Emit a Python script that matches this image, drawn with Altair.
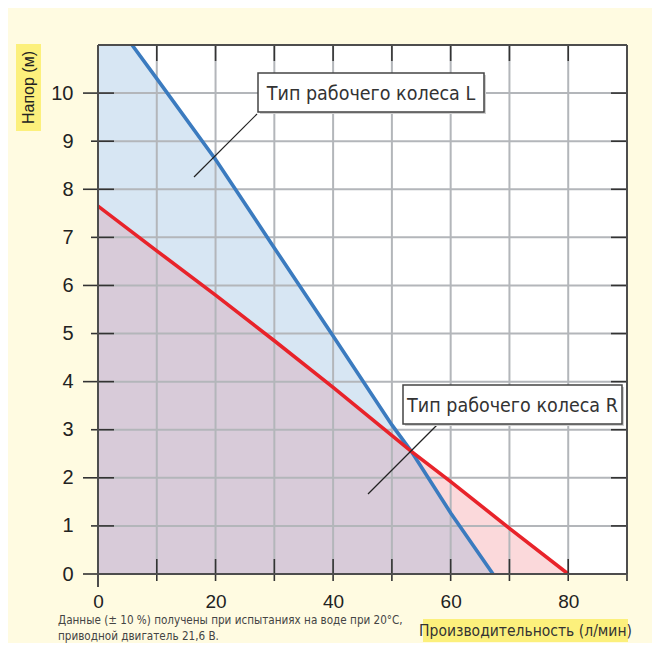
import altair as alt
import pandas as pd

# ---- data ----
flow_L = [5.8, 10, 20, 30, 40, 50, 53.3, 60, 67.2]
head_L = [11.0, 10.3, 8.62, 6.78, 4.95, 3.10, 2.55, 1.27, 0.0]
flow_R = [0, 10, 20, 30, 40, 53.3, 60, 70, 80]
head_R = [7.65, 6.72, 5.80, 4.85, 3.88, 2.55, 1.92, 0.95, 0.0]
x_label_values = [0, 20, 40, 60, 80]
y_label_values = [0, 1, 2, 3, 4, 5, 6, 7, 8, 9, 10]
x_grid = [10, 20, 30, 40, 50, 60, 70, 80]
y_grid = [1, 2, 3, 4, 5, 6, 7, 8, 9, 10]
y_major = [0, 2, 4, 6, 8, 10]
y_minor = [1, 3, 5, 7, 9]
x_bottom_ticks = [10, 20, 30, 40, 50, 60, 70, 80, 90]
label_L = "Тип рабочего колеса L"
label_R = "Тип рабочего колеса R"
y_title = "Напор (м)"
x_title = "Производительность (л/мин)"
note_1 = "Данные (± 10 %) получены при испытаниях на воде при 20°C,"
note_2 = "приводной двигатель 21,6 В."

W, H = 529, 529
NARROW = "Liberation Sans Narrow, DejaVu Sans Condensed, sans-serif"
SANS = "Liberation Sans, Arial, sans-serif"

line_L = pd.DataFrame({"q": flow_L, "h": head_L})
line_R = pd.DataFrame({"q": flow_R, "h": head_R})
area_L = pd.DataFrame({"q": [0] + flow_L, "h": [head_L[0]] + head_L})
cut = flow_L.index(53.3)
cutR = flow_R.index(53.3)
overlap = pd.DataFrame({"q": flow_R[:cutR] + flow_L[cut:], "h": head_R[:cutR] + head_L[cut:]})

xs = alt.Scale(domain=[0, 90], nice=False, zero=True)
ys = alt.Scale(domain=[0, 11], nice=False, zero=True)

x_axis = alt.Axis(values=x_label_values, title=None, grid=False, domain=False, ticks=False,
                  tickSize=0, labelPadding=18, labelFont=SANS, labelFontSize=19,
                  labelColor="#222", labelFlush=False)
y_axis = alt.Axis(values=y_label_values, title=None, grid=False, domain=False, ticks=False,
                  tickSize=0, labelPadding=0, offset=25, labelFont=SANS, labelFontSize=20,
                  labelColor="#222", labelFlush=False, labelAlign="right", labelBaseline="middle")

def X(name="q"):
    return alt.X(name, type="quantitative", scale=xs, axis=x_axis)

def Y(name="h"):
    return alt.Y(name, type="quantitative", scale=ys, axis=y_axis)

layers = []
# areas
layers.append(alt.Chart(area_L).mark_area(color="#d7e6f3", opacity=1).encode(x=X(), y=Y()))
layers.append(alt.Chart(line_R).mark_area(color="#fbd9db", opacity=1).encode(x=X(), y=Y()))
layers.append(alt.Chart(overlap).mark_area(color="#d8cbd9", opacity=1).encode(x=X(), y=Y()))

# grid
layers.append(alt.Chart(pd.DataFrame({"g": x_grid})).mark_rule(color="#b3b6ba", strokeWidth=2)
              .encode(x=X("g"), y=alt.value(0), y2=alt.value(H)))
layers.append(alt.Chart(pd.DataFrame({"g": y_grid})).mark_rule(color="#b3b6ba", strokeWidth=2)
              .encode(y=Y("g"), x=alt.value(0), x2=alt.value(W)))

# curves
layers.append(alt.Chart(line_L).mark_line(color="#3b7bbf", strokeWidth=3.6, clip=True).encode(x=X(), y=Y()))
layers.append(alt.Chart(line_R).mark_line(color="#e8232a", strokeWidth=3.6, clip=True).encode(x=X(), y=Y()))

# ticks
TK = "#333333"
layers.append(alt.Chart(pd.DataFrame({"t": x_bottom_ticks})).mark_rule(color=TK, strokeWidth=1.6)
              .encode(x=X("t"), y=alt.value(H - 15), y2=alt.value(H + 7)))
layers.append(alt.Chart(pd.DataFrame({"t": x_grid})).mark_rule(color=TK, strokeWidth=1.6)
              .encode(x=X("t"), y=alt.value(0), y2=alt.value(16)))
layers.append(alt.Chart(pd.DataFrame({"t": y_major})).mark_rule(color=TK, strokeWidth=1.6)
              .encode(y=Y("t"), x=alt.value(-15), x2=alt.value(16)))
layers.append(alt.Chart(pd.DataFrame({"t": y_minor})).mark_rule(color=TK, strokeWidth=1.6)
              .encode(y=Y("t"), x=alt.value(-7), x2=alt.value(16)))
layers.append(alt.Chart(pd.DataFrame({"t": y_grid})).mark_rule(color=TK, strokeWidth=1.6)
              .encode(y=Y("t"), x=alt.value(W - 16), x2=alt.value(W)))

# border
one = pd.DataFrame({"k": [0]})
BC = "#4d4d4d"
layers.append(alt.Chart(one).mark_rule(color=BC, strokeWidth=2)
              .encode(x=alt.value(0), x2=alt.value(0), y=alt.value(0), y2=alt.value(H + 13)))
layers.append(alt.Chart(one).mark_rule(color=BC, strokeWidth=2)
              .encode(x=alt.value(W), x2=alt.value(W), y=alt.value(0), y2=alt.value(H)))
layers.append(alt.Chart(one).mark_rule(color=BC, strokeWidth=2)
              .encode(x=alt.value(0), x2=alt.value(W), y=alt.value(0), y2=alt.value(0)))
layers.append(alt.Chart(one).mark_rule(color=BC, strokeWidth=2)
              .encode(x=alt.value(0), x2=alt.value(W), y=alt.value(H), y2=alt.value(H)))

# annotation boxes
def box(x1, x2, y1, y2, text, leader):
    out = []
    out.append(alt.Chart(one).mark_rule(color="#222", strokeWidth=1.2)
               .encode(x=alt.value(leader[0]), y=alt.value(leader[1]),
                       x2=alt.value(leader[2]), y2=alt.value(leader[3])))
    out.append(alt.Chart(one).mark_rect(fill="#cfcfcf")
               .encode(x=alt.value(x1 + 2), x2=alt.value(x2 + 2), y=alt.value(y1 + 2), y2=alt.value(y2 + 2)))
    out.append(alt.Chart(one).mark_rect(fill="white", stroke="#444", strokeWidth=1.5)
               .encode(x=alt.value(x1), x2=alt.value(x2), y=alt.value(y1), y2=alt.value(y2)))
    out.append(alt.Chart(pd.DataFrame({"t": [text]})).mark_text(font=NARROW, fontSize=19.5, color="#333",
                                                                 align="center", baseline="middle")
               .encode(x=alt.value((x1 + x2) / 2), y=alt.value((y1 + y2) / 2 + 1), text="t:N"))
    return out

layers += box(160, 386, 28, 67, label_L, (159, 69, 96, 132))
layers += box(305, 524, 340, 379, label_R, (340, 379, 270, 449))

# axis titles with highlight
HL = "#fcf07c"
layers.append(alt.Chart(one).mark_rect(fill=HL)
              .encode(x=alt.value(-82), x2=alt.value(-57), y=alt.value(-1), y2=alt.value(86)))
layers.append(alt.Chart(pd.DataFrame({"t": [y_title]})).mark_text(font=SANS, fontSize=16, color="#222",
                                                                   angle=270, align="center", baseline="middle")
              .encode(x=alt.value(-69), y=alt.value(42.5), text="t:N"))
layers.append(alt.Chart(one).mark_rect(fill=HL)
              .encode(x=alt.value(325), x2=alt.value(530), y=alt.value(574), y2=alt.value(597)))
layers.append(alt.Chart(pd.DataFrame({"t": [x_title]})).mark_text(font=NARROW, fontSize=15.5, color="#333",
                                                                   align="center", baseline="middle")
              .encode(x=alt.value(427.5), y=alt.value(586), text="t:N"))

# footnote
layers.append(alt.Chart(pd.DataFrame({"t": [note_1]})).mark_text(font=NARROW, fontSize=11.6, color="#444",
                                                                  align="left", baseline="alphabetic")
              .encode(x=alt.value(-40), y=alt.value(579), text="t:N"))
layers.append(alt.Chart(pd.DataFrame({"t": [note_2]})).mark_text(font=NARROW, fontSize=11.6, color="#444",
                                                                  align="left", baseline="alphabetic")
              .encode(x=alt.value(-40), y=alt.value(595), text="t:N"))

chart = alt.layer(*layers).properties(
    width=W, height=H,
    padding={"left": 90, "top": 37, "right": 25, "bottom": 69},
    autosize=alt.AutoSizeParams(type="none"),
    background="#fffbe1",
).configure_view(stroke=None, fill="white")

chart.save("out.html", embed_options={"renderer": "svg", "actions": False})
